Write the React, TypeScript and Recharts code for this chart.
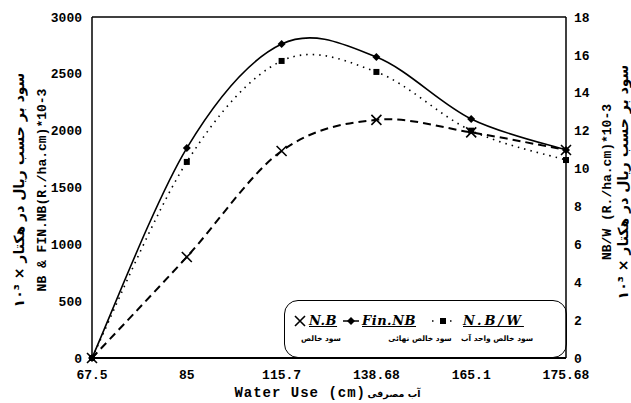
import { LineChart, Line, XAxis, YAxis, ReferenceLine, Legend } from "recharts";

// water use (cm) – categories on the x axis
const waterUse = ["67.5", "85", "115.7", "138.68", "165.1", "175.68"];
// net benefit, final net benefit (R./ha.cm *10^-3, left axis)
const netBenefit = [0, 889, 1821, 2095, 1985, 1830];
const finalNetBenefit = [0, 1847, 2762, 2648, 2103, 1830];
// net benefit per unit water (right axis)
const benefitPerWater = [0, 10.35, 15.68, 15.1, 12.0, 10.45];

const leftTicks = [0, 500, 1000, 1500, 2000, 2500, 3000];
const rightTicks = [0, 2, 4, 6, 8, 10, 12, 14, 16, 18];

const data = waterUse.map((w, i) => ({
  w,
  nb: netBenefit[i],
  fin: finalNetBenefit[i],
  nbw: benefitPerWater[i],
}));

const MONO = "'Liberation Mono', 'DejaVu Sans Mono', monospace";
const FA = "'DejaVu Sans', sans-serif";
const tickStyle = { fontFamily: MONO, fontWeight: 700, fontSize: 13, fill: "#000" };

// catmull-rom style smoothing, passes through every point
function smoothCurve(context: any) {
  let pts: number[][] = [];
  return {
    areaStart() {},
    areaEnd() {},
    lineStart() {
      pts = [];
    },
    point(x: number, y: number) {
      pts.push([+x, +y]);
    },
    lineEnd() {
      if (!pts.length) return;
      context.moveTo(pts[0][0], pts[0][1]);
      for (let i = 0; i < pts.length - 1; i++) {
        const p0 = pts[Math.max(i - 1, 0)];
        const p1 = pts[i];
        const p2 = pts[i + 1];
        const p3 = pts[Math.min(i + 2, pts.length - 1)];
        context.bezierCurveTo(
          p1[0] + (p2[0] - p0[0]) / 6,
          p1[1] + (p2[1] - p0[1]) / 6,
          p2[0] - (p3[0] - p1[0]) / 6,
          p2[1] - (p3[1] - p1[1]) / 6,
          p2[0],
          p2[1]
        );
      }
    },
  };
}

const CrossDot = (p: any) => {
  const { cx, cy, index } = p;
  if (cx == null || cy == null) return <g key={`c${index}`} />;
  return (
    <path
      key={`c${index}`}
      d={`M${cx - 5},${cy - 5}L${cx + 5},${cy + 5}M${cx + 5},${cy - 5}L${cx - 5},${cy + 5}`}
      stroke="#000"
      strokeWidth={1.6}
    />
  );
};

const DiamondDot = (p: any) => {
  const { cx, cy, index } = p;
  if (cx == null || cy == null) return <g key={`d${index}`} />;
  return (
    <path
      key={`d${index}`}
      d={`M${cx},${cy - 4}L${cx + 4},${cy}L${cx},${cy + 4}L${cx - 4},${cy}Z`}
      fill="#000"
    />
  );
};

const SquareDot = (p: any) => {
  const { cx, cy, index } = p;
  if (cx == null || cy == null) return <g key={`s${index}`} />;
  return <rect key={`s${index}`} x={cx - 3} y={cy - 3} width={6} height={6} fill="#000" />;
};

const FA_TITLE = "سود بر حسب ریال در هکتار × ۱۰³";

function SideTitle({ xe, xf, cy, en }: { xe: number; xf: number; cy: number; en: string }) {
  return (
    <g>
      <text
        x={xe}
        y={cy}
        transform={`rotate(-90 ${xe} ${cy})`}
        textAnchor="middle"
        dominantBaseline="central"
        style={{ fontFamily: MONO, fontWeight: 700, fontSize: 13 }}
        fill="#000"
      >
        {en}
      </text>
      <text
        x={xf}
        y={cy}
        transform={`rotate(-90 ${xf} ${cy})`}
        textAnchor="middle"
        dominantBaseline="central"
        direction="rtl"
        style={{ fontFamily: FA, fontWeight: 700, fontSize: 14 }}
        fill="#000"
      >
        {FA_TITLE}
      </text>
    </g>
  );
}

function LeftTitle(props: any) {
  const vb = props.viewBox || { x: 50 };
  return <SideTitle xe={vb.x - 8} xf={vb.x - 31} cy={190} en="NB & FIN.NB(R./ha.cm)*10-3" />;
}

function RightTitle(props: any) {
  const vb = props.viewBox || { x: 566 };
  return <SideTitle xe={vb.x + 41} xf={vb.x + 57} cy={182} en="NB/W (R./ha.cm)*10-3" />;
}

function BottomTitle() {
  return (
    <g>
      <text
        x={366}
        y={393}
        textAnchor="end"
        dominantBaseline="central"
        style={{ fontFamily: MONO, fontWeight: 700, fontSize: 14, letterSpacing: 1 }}
        fill="#000"
      >
        Water Use (cm)
      </text>
      <text
        x={394}
        y={393}
        textAnchor="middle"
        dominantBaseline="central"
        direction="rtl"
        style={{ fontFamily: FA, fontWeight: 700, fontSize: 9.5 }}
        fill="#000"
      >
        آب مصرفی
      </text>
    </g>
  );
}

const labelFont: any = {
  position: "absolute",
  fontFamily: "'DejaVu Serif', serif",
  fontStyle: "italic",
  fontWeight: 700,
  fontSize: 13,
  letterSpacing: 0.5,
  textDecoration: "underline",
  lineHeight: "16px",
  top: 12,
  whiteSpace: "nowrap",
};
const faFont: any = {
  position: "absolute",
  fontFamily: FA,
  fontSize: 7.5,
  fontWeight: 700,
  direction: "rtl",
  top: 33,
  transform: "translateX(-50%)",
  whiteSpace: "nowrap",
};

function LegendBox() {
  return (
    <div
      style={{
        position: "relative",
        width: 283,
        height: 58,
        boxSizing: "border-box",
        border: "1.5px solid #000",
        borderRadius: 14,
        color: "#000",
      }}
    >
      <svg style={{ position: "absolute", left: 8, top: 14 }} width={14} height={12}>
        <path d="M2,1L12,11M12,1L2,11" stroke="#000" strokeWidth={1.6} />
      </svg>
      <span style={{ ...labelFont, left: 24 }}>N.B</span>
      <span style={{ ...faFont, left: 36 }}>سود خالص</span>

      <svg style={{ position: "absolute", left: 58, top: 14 }} width={16} height={12}>
        <path d="M0,6L16,6" stroke="#000" strokeWidth={1.5} />
        <path d="M8,2L12,6L8,10L4,6Z" fill="#000" />
      </svg>
      <span style={{ ...labelFont, left: 77 }}>Fin.NB</span>
      <span style={{ ...faFont, left: 135 }}>سود خالص نهائی</span>

      <svg style={{ position: "absolute", left: 146, top: 14 }} width={24} height={12}>
        <path d="M1,6L5,6M19,6L23,6" stroke="#000" strokeWidth={1.5} strokeDasharray="1.5 2.5" />
        <rect x={9} y={3} width={6} height={6} fill="#000" />
      </svg>
      <span style={{ ...labelFont, left: 178, letterSpacing: 3 }}>N.B/W</span>
      <span style={{ ...faFont, left: 212 }}>سود خالص واحد آب</span>
    </div>
  );
}

export default function App() {
  return (
    <div style={{ position: "absolute", left: 0, top: 0, width: 631, height: 403, background: "#fff" }}>
      <LineChart
        width={631}
        height={403}
        data={data}
        margin={{ top: 17, right: 25, left: 50, bottom: 15 }}
      >
        <XAxis
          dataKey="w"
          tickLine={false}
          axisLine={{ stroke: "#000", strokeWidth: 2 }}
          tick={tickStyle}
          tickMargin={6}
          height={30}
          interval={0}
          label={<BottomTitle />}
        />
        <YAxis
          yAxisId="left"
          domain={[0, 3000]}
          ticks={leftTicks}
          tickLine={false}
          axisLine={{ stroke: "#000", strokeWidth: 1.5 }}
          tick={tickStyle}
          tickMargin={4}
          width={42}
          label={<LeftTitle />}
        />
        <YAxis
          yAxisId="right"
          orientation="right"
          domain={[0, 18]}
          ticks={rightTicks}
          tickLine={false}
          axisLine={{ stroke: "#000", strokeWidth: 1.5 }}
          tick={tickStyle}
          tickMargin={2}
          width={40}
          label={<RightTitle />}
        />
        <ReferenceLine yAxisId="left" y={3000} stroke="#000" strokeWidth={1.5} />
        <Line
          yAxisId="left"
          type={smoothCurve as any}
          dataKey="nb"
          name="N.B"
          stroke="#000"
          strokeWidth={2}
          strokeDasharray="8 5"
          dot={CrossDot}
          activeDot={false}
          isAnimationActive={false}
        />
        <Line
          yAxisId="left"
          type={smoothCurve as any}
          dataKey="fin"
          name="Fin.NB"
          stroke="#000"
          strokeWidth={1.6}
          dot={DiamondDot}
          activeDot={false}
          isAnimationActive={false}
        />
        <Line
          yAxisId="right"
          type={smoothCurve as any}
          dataKey="nbw"
          name="N.B/W"
          stroke="#000"
          strokeWidth={1.6}
          strokeDasharray="1.5 5"
          dot={SquareDot}
          activeDot={false}
          isAnimationActive={false}
        />
        <Legend
          layout="vertical"
          align="center"
          verticalAlign="middle"
          content={() => <LegendBox />}
          wrapperStyle={{ left: 284, top: 300, right: "auto", bottom: "auto", width: 283 }}
        />
      </LineChart>
    </div>
  );
}
